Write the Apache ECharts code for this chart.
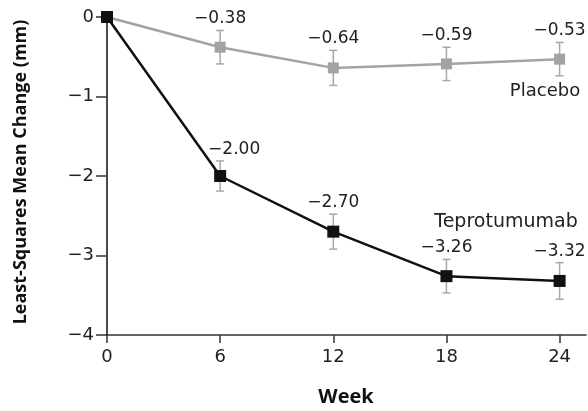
<!DOCTYPE html>
<html>
<head>
<meta charset="utf-8">
<script src="https://cdn.jsdelivr.net/npm/echarts@6/dist/echarts.min.js"></script>
<style>
  html, body { margin: 0; padding: 0; background: #fff; }
  #chart { width: 588px; height: 411px; }
</style>
</head>
<body>
<div id="chart"></div>
<script>
// 数据
const weeks = [0, 6, 12, 18, 24]
const placebo = [0, -0.38, -0.64, -0.59, -0.53]
const placeboErr = [0, 0.21, 0.22, 0.21, 0.21]
const tepro = [0, -2.00, -2.70, -3.26, -3.32]
const teproErr = [0, 0.19, 0.22, 0.21, 0.23]
const xTicks = [0, 6, 12, 18, 24]

const FONT = '"DejaVu Sans", "Open Sans", sans-serif'
const fmt = v => (v < 0 ? '\u2212' : '') + Math.abs(v).toFixed(2)

const myChart = echarts.init(document.getElementById('chart'))

// error bar + value label
function errRender(vals, errs, labelDx) {
  return function (params, api) {
    const i = params.dataIndex
    const x = weeks[i]
    const v = vals[i]
    const e = errs[i]
    const children = []
    if (e > 0) {
      const top = api.coord([x, v + e])
      const bot = api.coord([x, v - e])
      const st = { stroke: '#a8a8a8', lineWidth: 1.5 }
      children.push({ type: 'line', shape: { x1: top[0], y1: top[1], x2: bot[0], y2: bot[1] }, style: st })
      children.push({ type: 'line', shape: { x1: top[0] - 4, y1: top[1], x2: top[0] + 4, y2: top[1] }, style: st })
      children.push({ type: 'line', shape: { x1: bot[0] - 4, y1: bot[1], x2: bot[0] + 4, y2: bot[1] }, style: st })
      children.push({
        type: 'text',
        style: {
          text: fmt(v), x: top[0] + labelDx[i], y: top[1] - 3,
          align: 'center', verticalAlign: 'bottom',
          fill: '#222', font: '17px ' + FONT
        }
      })
    }
    return { type: 'group', children: children }
  }
}

const option = {
  animation: false,
  grid: { left: 107, right: 2, top: 17, bottom: 76 },
  xAxis: {
    type: 'value', min: 0, max: 25.4,
    axisLine: { show: true, onZero: false, lineStyle: { color: '#333', width: 1.5 } },
    axisTick: { show: true, length: 8, customValues: xTicks, lineStyle: { color: '#333', width: 1.5 } },
    axisLabel: { customValues: xTicks, color: '#222', fontSize: 18, fontFamily: FONT, margin: 13 },
    splitLine: { show: false }
  },
  yAxis: {
    type: 'value', min: -4, max: 0, interval: 1,
    axisLine: { show: true, onZero: false, lineStyle: { color: '#111', width: 1.5 } },
    axisTick: { show: true, length: 11, lineStyle: { color: '#333', width: 1.5 } },
    axisLabel: { color: '#222', fontSize: 18, fontFamily: FONT, margin: 13,
      formatter: v => (v < 0 ? '\u2212' : '') + Math.abs(v) },
    splitLine: { show: false }
  },
  graphic: [
    { type: 'text', x: 21, y: 172, rotation: Math.PI / 2,
      style: { text: 'Least-Squares Mean Change (mm)', fill: '#111',
        align: 'center', verticalAlign: 'middle',
        font: 'bold 18px "Liberation Sans Narrow", "Open Sans", sans-serif' } },
    { type: 'text', x: 346, y: 397,
      style: { text: 'Week', fill: '#111', align: 'center', verticalAlign: 'middle',
        font: 'bold 20px "Open Sans", sans-serif' } },
    { type: 'text', x: 545, y: 91,
      style: { text: 'Placebo', fill: '#222', align: 'center', verticalAlign: 'middle', font: '18px ' + FONT } },
    { type: 'text', x: 506, y: 222,
      style: { text: 'Teprotumumab', fill: '#222', align: 'center', verticalAlign: 'middle', font: '19px ' + FONT } }
  ],
  series: [
    {
      type: 'custom', name: 'placeboErr', z: 1,
      renderItem: errRender(placebo, placeboErr, [0, 0, 0, 0, 0]),
      data: weeks.map((w, i) => [w, placebo[i]])
    },
    {
      type: 'custom', name: 'teproErr', z: 1,
      renderItem: errRender(tepro, teproErr, [0, 14, 0, 0, 0]),
      data: weeks.map((w, i) => [w, tepro[i]])
    },
    {
      type: 'line', name: 'Placebo', z: 3,
      data: weeks.map((w, i) => [w, placebo[i]]),
      symbol: 'rect', symbolSize: 11,
      lineStyle: { color: '#a3a3a3', width: 2.5 },
      itemStyle: { color: '#a3a3a3' }
    },
    {
      type: 'line', name: 'Teprotumumab', z: 4,
      data: weeks.map((w, i) => [w, tepro[i]]),
      symbol: 'rect', symbolSize: 12,
      lineStyle: { color: '#111', width: 2.5 },
      itemStyle: { color: '#111' }
    }
  ]
}
myChart.setOption(option)
</script>
</body>
</html>
